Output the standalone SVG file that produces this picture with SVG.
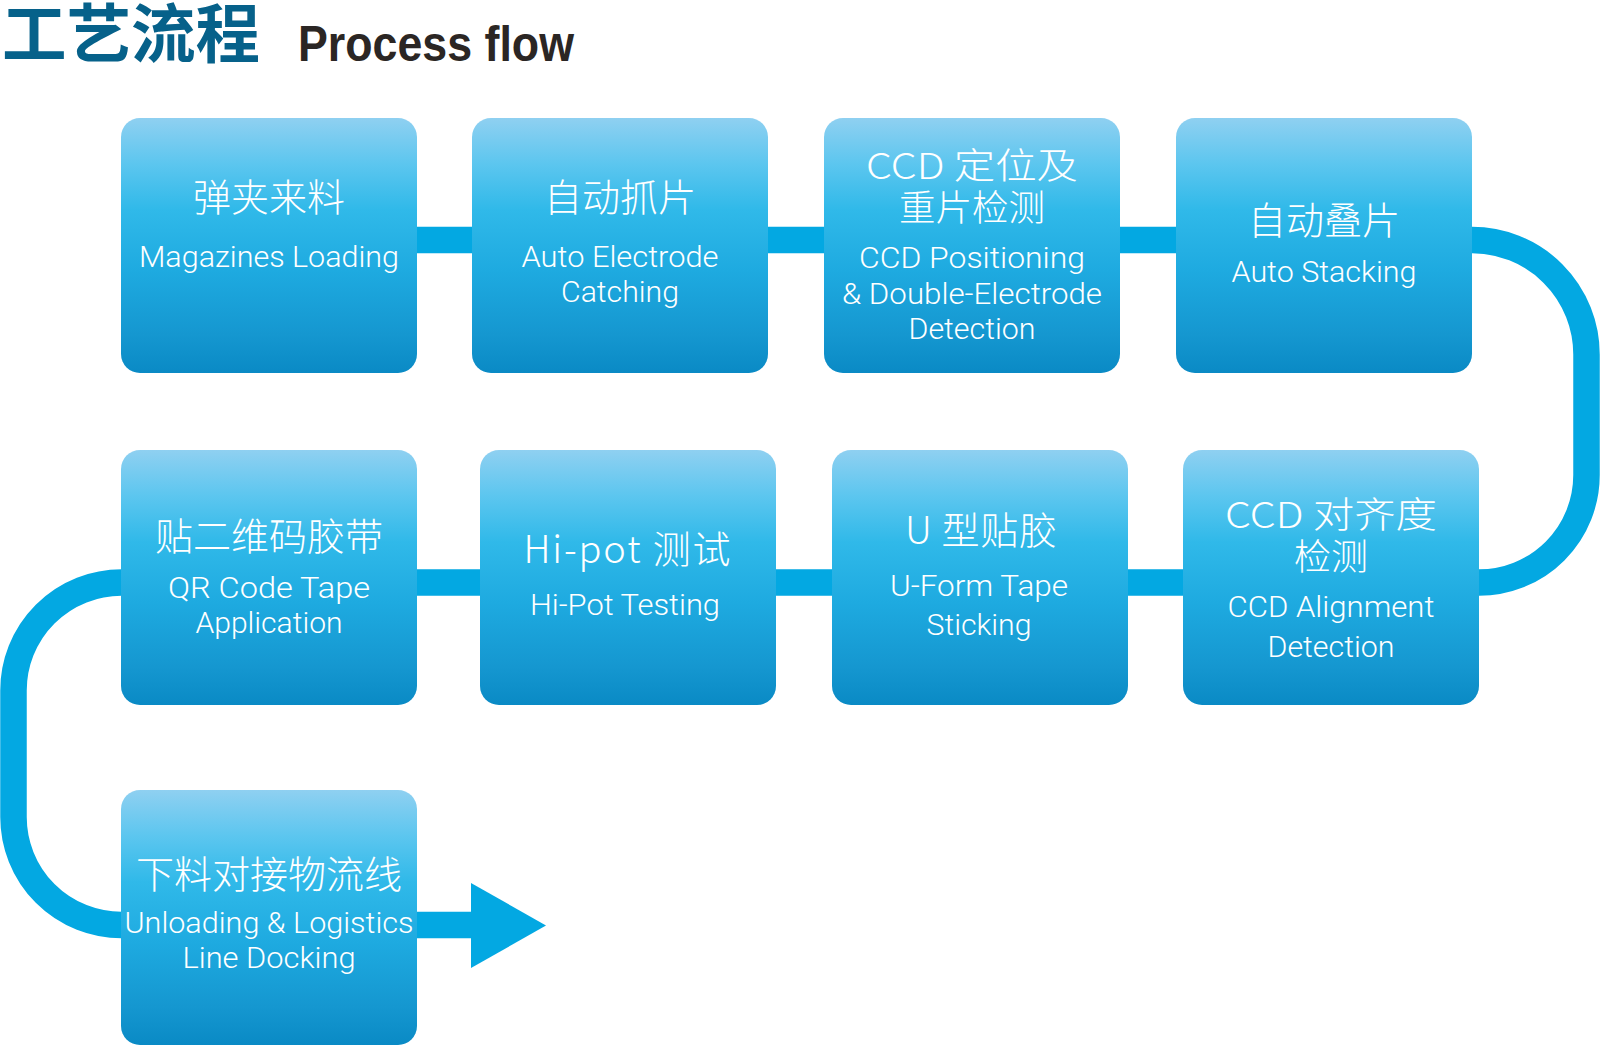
<svg xmlns="http://www.w3.org/2000/svg" width="1600" height="1045" viewBox="0 0 1600 1045">
  <defs>
    <linearGradient id="boxGrad" x1="0" y1="0" x2="0" y2="1">
      <stop offset="0" stop-color="#8fd0f1"/>
      <stop offset="0.18" stop-color="#5cc6ef"/>
      <stop offset="0.36" stop-color="#30b9e9"/>
      <stop offset="0.6" stop-color="#1eaae0"/>
      <stop offset="0.85" stop-color="#1597d0"/>
      <stop offset="1" stop-color="#0a8ac5"/>
    </linearGradient>
    <style>
      .box { fill: url(#boxGrad); }
      .cn { font-family: "Noto Sans CJK SC", sans-serif; font-size: 38px; font-weight: 300; fill: #ffffff; text-anchor: middle; }
      .cn2 { font-family: "Noto Sans CJK SC", sans-serif; font-size: 36px; font-weight: 300; fill: #ffffff; text-anchor: middle; }
      .en { font-family: Roboto, "Liberation Sans", sans-serif; font-size: 30px; font-weight: 300; fill: #ffffff; text-anchor: middle; }
      .flow { fill: none; stroke: #03a8e2; stroke-width: 26.5; }
      .head { fill: #03a8e2; }
      .t-cn { font-family: "Noto Sans CJK SC", sans-serif; font-size: 64px; font-weight: 700; fill: #06618a; }
      .t-en { font-family: "Liberation Sans", Arial, sans-serif; font-size: 50px; font-weight: 700; fill: #2b2624; }
    </style>
  </defs>
  <rect width="1600" height="1045" fill="#ffffff"/>

  <g id="title">
    <text class="t-cn" x="2" y="57" textLength="258" lengthAdjust="spacingAndGlyphs">工艺流程</text>
    <text class="t-en" x="298" y="61" textLength="276" lengthAdjust="spacingAndGlyphs">Process flow</text>
  </g>

  <g id="connectors">
    <path class="flow" d="M 269 240 H 1472 A 114.5 114.5 0 0 1 1586.5 354.5 V 475 A 107.5 107.5 0 0 1 1479 582.5 H 121.5 A 108 108 0 0 0 13.5 690.5 V 817 A 108 108 0 0 0 121.5 925 H 474"/>
    <polygon class="head" points="471,883 546,925.5 471,968"/>
  </g>

  <g id="node1">
    <rect class="box" x="121" y="118" width="296" height="255" rx="19"/>
    <text class="cn" x="269" y="211">弹夹来料</text>
    <text class="en" x="269" y="267" textLength="260" lengthAdjust="spacingAndGlyphs">Magazines Loading</text>
  </g>

  <g id="node2">
    <rect class="box" x="472" y="118" width="296" height="255" rx="19"/>
    <text class="cn" x="620" y="211">自动抓片</text>
    <text class="en" x="620" y="267" textLength="197" lengthAdjust="spacingAndGlyphs">Auto Electrode</text>
    <text class="en" x="620" y="302" textLength="118" lengthAdjust="spacingAndGlyphs">Catching</text>
  </g>

  <g id="node3">
    <rect class="box" x="824" y="118" width="296" height="255" rx="19"/>
    <text class="cn2" x="972" y="179" textLength="212" lengthAdjust="spacingAndGlyphs">CCD 定位及</text>
    <text class="cn2" x="972" y="221" textLength="146" lengthAdjust="spacingAndGlyphs">重片检测</text>
    <text class="en" x="972" y="268" textLength="226" lengthAdjust="spacingAndGlyphs">CCD Positioning</text>
    <text class="en" x="972" y="303.5" textLength="260" lengthAdjust="spacingAndGlyphs">&amp; Double-Electrode</text>
    <text class="en" x="972" y="339" textLength="127" lengthAdjust="spacingAndGlyphs">Detection</text>
  </g>

  <g id="node4">
    <rect class="box" x="1176" y="118" width="296" height="255" rx="19"/>
    <text class="cn" x="1324" y="234">自动叠片</text>
    <text class="en" x="1324" y="282" textLength="185" lengthAdjust="spacingAndGlyphs">Auto Stacking</text>
  </g>

  <g id="node5">
    <rect class="box" x="1183" y="450" width="296" height="255" rx="19"/>
    <text class="cn2" x="1331" y="528" textLength="212" lengthAdjust="spacingAndGlyphs">CCD 对齐度</text>
    <text class="cn2" x="1331" y="570" textLength="74" lengthAdjust="spacingAndGlyphs">检测</text>
    <text class="en" x="1331" y="617" textLength="207" lengthAdjust="spacingAndGlyphs">CCD Alignment</text>
    <text class="en" x="1331" y="657" textLength="127" lengthAdjust="spacingAndGlyphs">Detection</text>
  </g>

  <g id="node6">
    <rect class="box" x="832" y="450" width="296" height="255" rx="19"/>
    <text class="cn" x="981" y="544" textLength="152" lengthAdjust="spacing">U 型贴胶</text>
    <text class="en" x="979" y="596" textLength="178" lengthAdjust="spacingAndGlyphs">U-Form Tape</text>
    <text class="en" x="979" y="635" textLength="105" lengthAdjust="spacingAndGlyphs">Sticking</text>
  </g>

  <g id="node7">
    <rect class="box" x="480" y="450" width="296" height="255" rx="19"/>
    <text class="cn" x="627" y="563" textLength="207" lengthAdjust="spacing">Hi-pot 测试</text>
    <text class="en" x="625" y="615" textLength="190" lengthAdjust="spacingAndGlyphs">Hi-Pot Testing</text>
  </g>

  <g id="node8">
    <rect class="box" x="121" y="450" width="296" height="255" rx="19"/>
    <text class="cn" x="269" y="550">贴二维码胶带</text>
    <text class="en" x="269" y="598" textLength="202" lengthAdjust="spacingAndGlyphs">QR Code Tape</text>
    <text class="en" x="269" y="633" textLength="147" lengthAdjust="spacingAndGlyphs">Application</text>
  </g>

  <g id="node9">
    <rect class="box" x="121" y="790" width="296" height="255" rx="19"/>
    <text class="cn" x="269" y="888">下料对接物流线</text>
    <text class="en" x="269" y="933" textLength="289" lengthAdjust="spacingAndGlyphs">Unloading &amp; Logistics</text>
    <text class="en" x="269" y="968" textLength="173" lengthAdjust="spacingAndGlyphs">Line Docking</text>
  </g>
</svg>
